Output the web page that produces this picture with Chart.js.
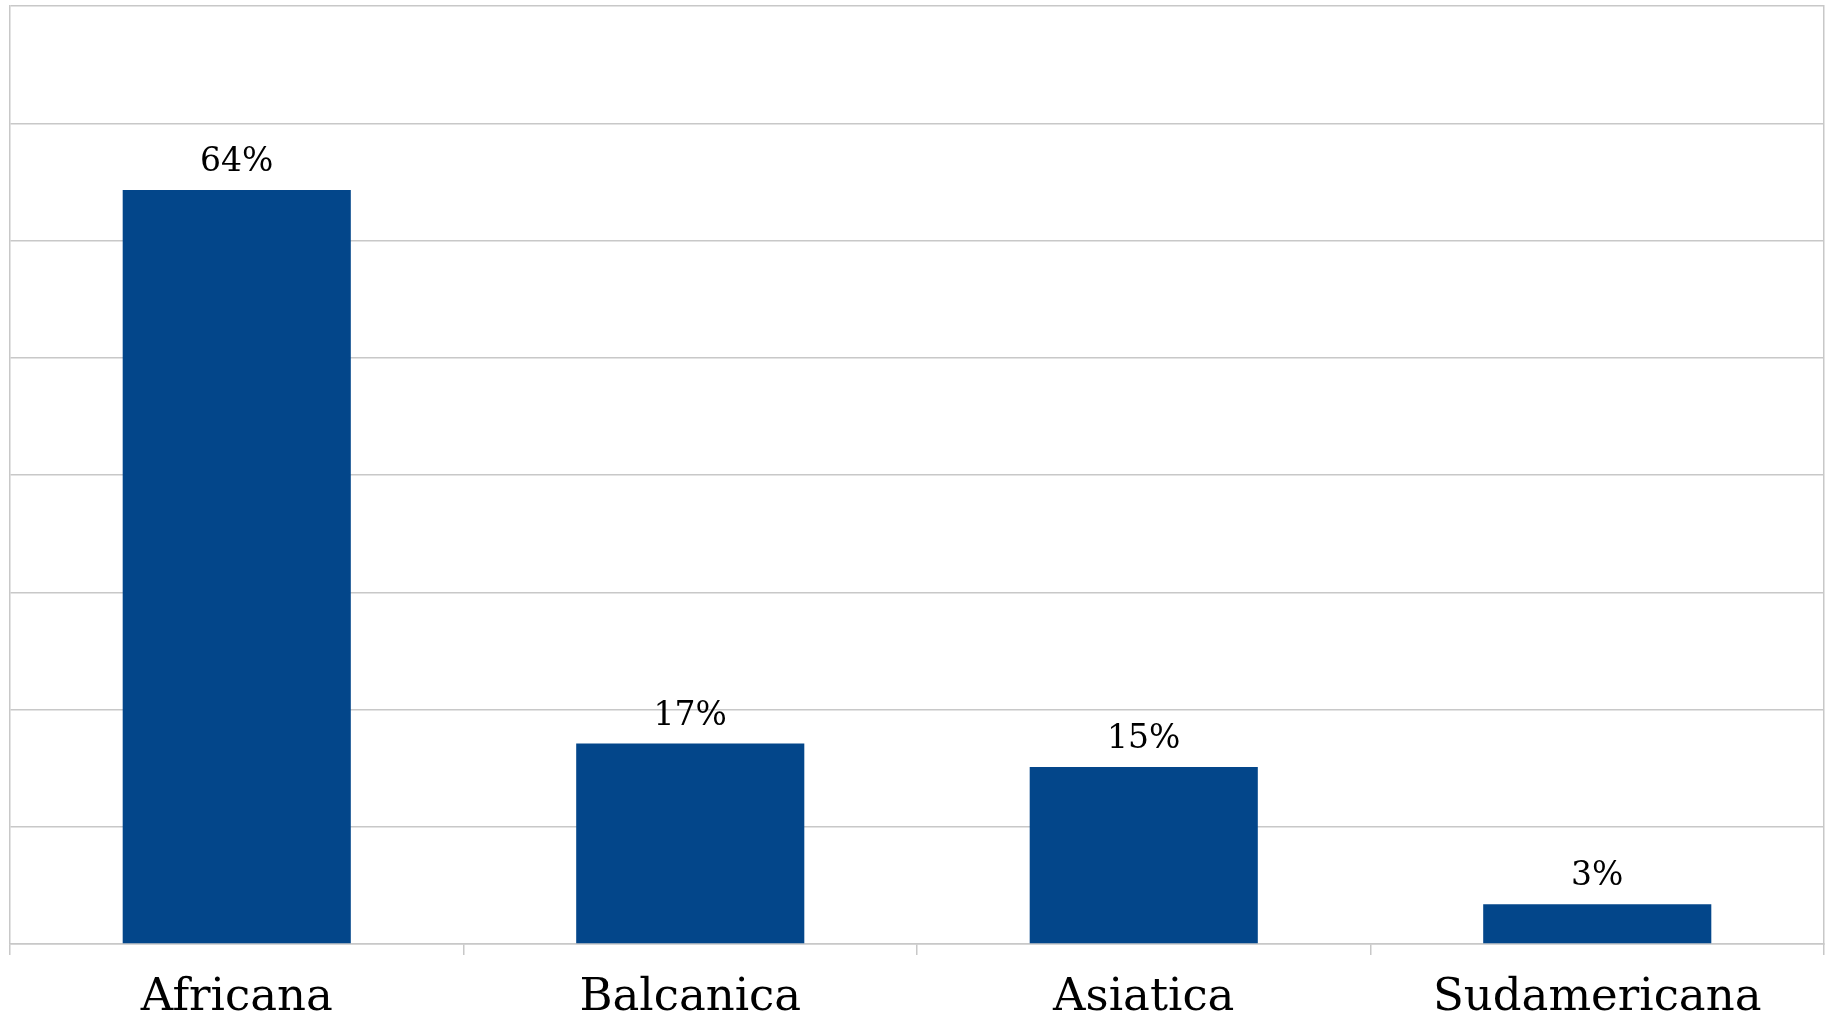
<!DOCTYPE html>
<html>
<head>
<meta charset="utf-8">
<script src="https://cdn.jsdelivr.net/npm/chart.js@4"></script>
<style>
  html, body { margin: 0; padding: 0; background: #ffffff; }
  #wrap { width: 1829px; height: 1018px; }
</style>
</head>
<body>
<div id="wrap"><canvas id="chart"></canvas></div>
<script>
// categories and shares (%)
const CATEGORIES = ["Africana", "Balcanica", "Asiatica", "Sudamericana"];
const SHARES = [64.3, 17.1, 15.1, 3.4];

const BAR_COLOR = "#03468a";
const GRID_COLOR = "#c8c8c8";
const FONT = "'DejaVu Serif', 'Liberation Serif', serif";

// value labels above each bar
const valueLabels = {
  id: "valueLabels",
  afterDatasetsDraw(chart) {
    const ctx = chart.ctx;
    const meta = chart.getDatasetMeta(0);
    ctx.save();
    ctx.font = "33px " + FONT;
    ctx.fillStyle = "#000000";
    ctx.textAlign = "center";
    ctx.textBaseline = "alphabetic";
    meta.data.forEach((bar, i) => {
      ctx.fillText(Math.round(SHARES[i]) + "%", bar.x, bar.y - 19);
    });
    ctx.restore();
  }
};

new Chart(document.getElementById("chart"), {
  type: "bar",
  data: {
    labels: CATEGORIES,
    datasets: [{
      data: SHARES,
      backgroundColor: BAR_COLOR,
      barPercentage: 1,
      categoryPercentage: 0.503,
    }]
  },
  options: {
    responsive: true,
    maintainAspectRatio: false,
    animation: false,
    layout: { padding: { left: 10, right: 5, top: 6, bottom: -23 } },
    plugins: { legend: { display: false }, tooltip: { enabled: false } },
    scales: {
      x: {
        grid: { display: true, drawOnChartArea: false, drawTicks: true, tickLength: 11, color: GRID_COLOR, lineWidth: 1.5 },
        border: { display: true, color: GRID_COLOR, width: 1.5 },
        ticks: { color: "#000000", font: { family: FONT, size: 45 }, padding: 16 }
      },
      y: {
        min: 0,
        max: 80,
        ticks: { display: false, stepSize: 10 },
        grid: { color: GRID_COLOR, lineWidth: 1.5, drawTicks: false },
        border: { display: true, color: GRID_COLOR, width: 1.5 }
      },
      yRight: {
        position: "right",
        display: true,
        ticks: { display: false },
        grid: { display: false, drawTicks: false },
        border: { display: true, color: GRID_COLOR, width: 1.5 }
      }
    }
  },
  plugins: [valueLabels]
});
</script>
</body>
</html>
